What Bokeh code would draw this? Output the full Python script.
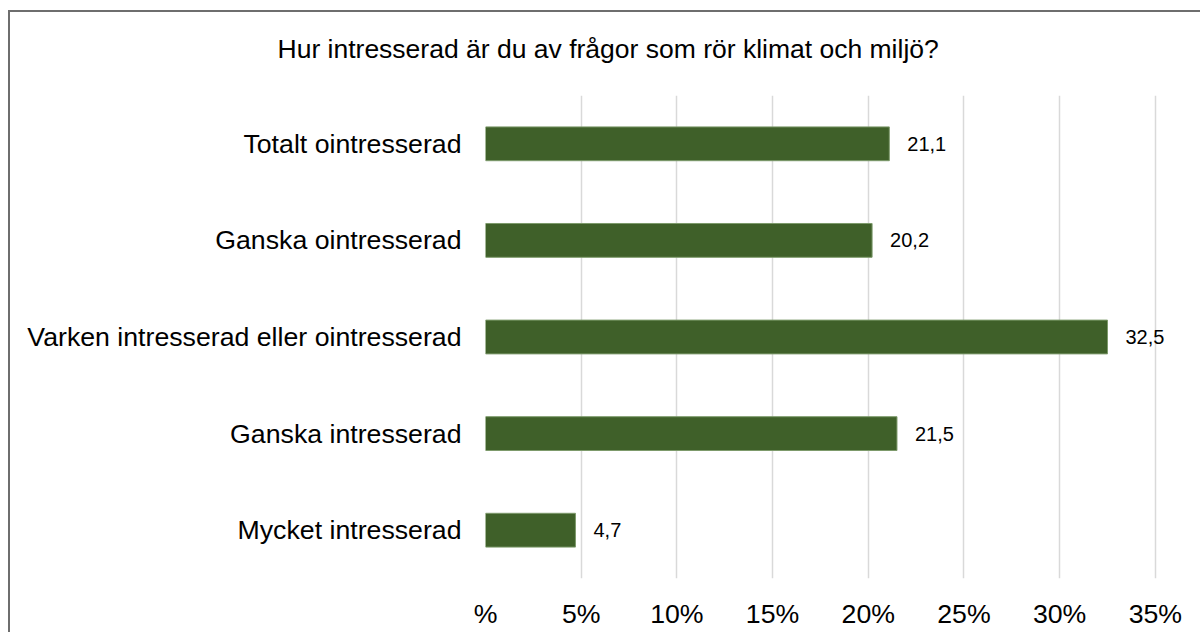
from bokeh.plotting import figure
from bokeh.models import FactorRange, Range1d, FixedTicker, ColumnDataSource, Title
from bokeh.core.properties import value
from bokeh.embed import file_html
from bokeh.resources import INLINE

title_text = "Hur intresserad är du av frågor som rör klimat och miljö?"
categories = ["Totalt ointresserad", "Ganska ointresserad",
              "Varken intresserad eller ointresserad", "Ganska intresserad",
              "Mycket intresserad"]
values = [21.1, 20.2, 32.5, 21.5, 4.7]
value_labels = ["21,1", "20,2", "32,5", "21,5", "4,7"]
tick_values = [0, 5, 10, 15, 20, 25, 30, 35]
tick_labels = ["%", "5%", "10%", "15%", "20%", "25%", "30%", "35%"]

FONT = "Liberation Sans"
BAR = "#3F6029"
EDGE = "#6e6e6e"

src = ColumnDataSource(dict(cat=categories, val=values, lab=value_labels))

p = figure(
    width=1192, height=632,
    y_range=FactorRange(factors=list(reversed(categories)), range_padding=0, factor_padding=0),
    x_range=Range1d(0, 37.36),
    output_backend="svg", toolbar_location=None,
    min_border_left=477, min_border_right=0, min_border_top=95, min_border_bottom=54,
)
# chart-area border (left and top edges; right/bottom lie outside the window)
p.styles = {
    "margin-left": "8px",
    "background": (f"linear-gradient({EDGE},{EDGE}) 0px 10px / 100% 2px no-repeat, "
                   f"linear-gradient({EDGE},{EDGE}) 0px 10px / 2px 100% no-repeat, white"),
}
p.outline_line_color = None
p.background_fill_color = "white"
p.border_fill_color = None

p.add_layout(Title(text=title_text, align="left", offset=-208, standoff=63,
                   text_font=FONT, text_font_size="26.5px", text_font_style="normal",
                   text_color="#000000"), "above")

p.hbar(y="cat", right="val", left=0, height=0.35, source=src,
       fill_color=BAR, line_color="#7d9a6b", line_width=1)

p.text(x="val", y="cat", text="lab", source=src, x_offset=18,
       text_baseline="middle", text_align="left",
       text_font=value(FONT), text_font_size="20px", text_color="#000000")

# axes
p.xaxis.ticker = FixedTicker(ticks=tick_values)
p.xaxis.major_label_overrides = {t: l for t, l in zip(tick_values, tick_labels)}
p.xaxis.axis_line_color = None
p.xaxis.major_tick_line_color = None
p.xaxis.minor_tick_line_color = None
p.xaxis.major_tick_out = 0
p.xaxis.major_tick_in = 0
p.xaxis.major_label_standoff = 20
p.xaxis.major_label_text_font = FONT
p.xaxis.major_label_text_font_size = "26.7px"
p.xaxis.major_label_text_color = "#000000"

p.yaxis.axis_line_color = None
p.yaxis.major_tick_line_color = None
p.yaxis.minor_tick_line_color = None
p.yaxis.major_tick_out = 0
p.yaxis.major_tick_in = 0
p.yaxis.major_label_standoff = 24
p.yaxis.major_label_text_font = FONT
p.yaxis.major_label_text_font_size = "26.7px"
p.yaxis.major_label_text_color = "#000000"

p.xgrid.grid_line_color = "#d9d9d9"
p.xgrid.grid_line_width = 1.5
p.ygrid.grid_line_color = None

open("out.html", "w").write(file_html(p, INLINE))
